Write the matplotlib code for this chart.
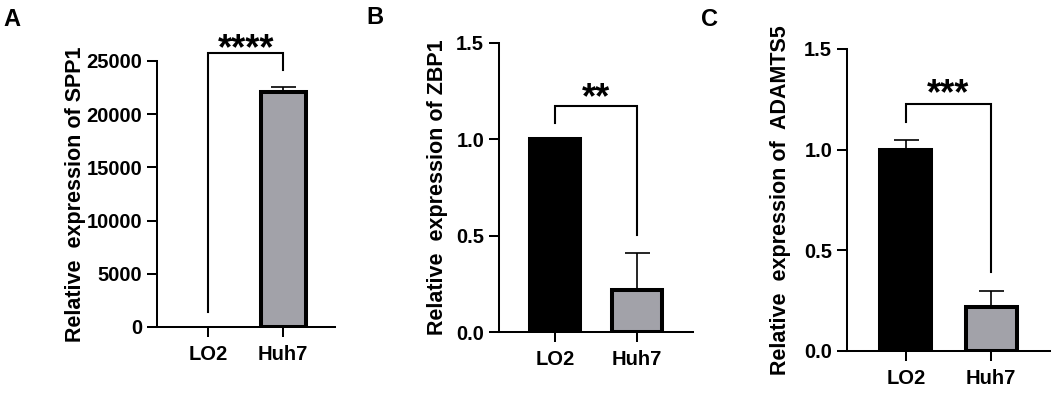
import matplotlib
matplotlib.use("Agg")
import matplotlib.pyplot as plt
import numpy as np

plt.rcParams['font.family'] = ['Liberation Sans', 'DejaVu Sans']
plt.rcParams['font.weight'] = 'bold'

# ---- data ----
groups = ["LO2", "Huh7"]

spp1_mean = [1, 22050]
spp1_sd = [0, 550]

zbp1_mean = [1.0, 0.22]
zbp1_sd = [0, 0.19]

adamts5_mean = [1.0, 0.22]
adamts5_sd = [0.05, 0.08]

panel_letters = ["A", "B", "C"]
ylabels = ["Relative  expression of SPP1",
           "Relative  expression of ZBP1",
           "Relative  expression of  ADAMTS5"]
stars = ["****", "**", "***"]

yticks_a = [0, 5000, 10000, 15000, 20000, 25000]
yticks_bc = [0.0, 0.5, 1.0, 1.5]

bar_colors = ["black", "#a2a2a9"]

# ---- layout (figure fractions, pixels of 1052x399) ----
W, H = 1052, 399
panels = [
    dict(mean=spp1_mean, sd=spp1_sd, rect=(157, 327, 178, 266), xlim=(-0.684, 1.69),
         ylim=(0, 25000), yticks=yticks_a, fmt="{:.0f}",
         bracket=(1410, 25750, 24160), star_y=27190, label_x=-0.40, letter=(12, 19)),
    dict(mean=zbp1_mean, sd=zbp1_sd, rect=(499, 332, 194, 289), xlim=(-0.683, 1.683),
         ylim=(0, 1.5), yticks=yticks_bc, fmt="{:.1f}",
         bracket=(1.085, 1.173, 0.503), star_y=1.273, label_x=-0.262, letter=(375, 18)),
    dict(mean=adamts5_mean, sd=adamts5_sd, rect=(847, 351, 203, 302), xlim=(-0.694, 1.694),
         ylim=(0, 1.5), yticks=yticks_bc, fmt="{:.1f}",
         bracket=(1.138, 1.227, 0.392), star_y=1.330, label_x=-0.275, letter=(710, 20)),
]

fig = plt.figure(figsize=(W / 100, H / 100), dpi=100)
x = np.arange(len(groups))

for i, p in enumerate(panels):
    left, bottom, w, h = p["rect"]
    ax = fig.add_axes([left / W, 1 - bottom / H, w / W, h / H])

    # error bars (upper half only), drawn behind bars
    ax.errorbar(x, p["mean"], yerr=[np.zeros(len(x)), p["sd"]], fmt="none",
                ecolor="black", elinewidth=1.2, capsize=9, capthick=1.2, zorder=1)
    # bars that are too small to see get no outline (merges with the axis)
    lws = [2.9 if m > 0.01 * p["ylim"][1] else 0 for m in p["mean"]]
    ax.bar(x, p["mean"], width=0.6, color=bar_colors, edgecolor="black",
           linewidth=lws, zorder=2)

    ax.set_xlim(*p["xlim"])
    ax.set_ylim(*p["ylim"])
    ax.set_xticks(x)
    ax.set_xticklabels(groups, fontsize=14.5, fontweight="bold")
    ax.set_yticks(p["yticks"])
    ax.set_yticklabels([p["fmt"].format(t) for t in p["yticks"]], fontsize=14.5,
                       fontweight="bold")

    for s in ["top", "right"]:
        ax.spines[s].set_visible(False)
    for s in ["left", "bottom"]:
        ax.spines[s].set_linewidth(1.45)
    ax.tick_params(axis="both", length=7.2, width=1.45, direction="out")
    ax.tick_params(axis="y", pad=3.5)
    ax.tick_params(axis="x", pad=5.5)

    ax.set_ylabel(ylabels[i], fontsize=15.5, fontweight="bold")
    ax.yaxis.set_label_coords(p["label_x"], 0.5)

    # significance bracket
    lo_left, top, lo_right = p["bracket"]
    ax.plot([0, 0, 1, 1], [lo_left, top, top, lo_right], color="black",
            linewidth=1.5, clip_on=False, solid_joinstyle="miter")
    ax.annotate(stars[i], xy=(0.5, p["star_y"]), xytext=(0, -0.59 * 26),
                textcoords="offset points", ha="center", va="baseline",
                fontsize=26, fontweight="bold", annotation_clip=False)

    lx, ly = p["letter"]
    fig.text(lx / W, 1 - ly / H, panel_letters[i], fontsize=17, fontweight="bold",
             ha="center", va="center")

fig.savefig("out.png", dpi=100)
